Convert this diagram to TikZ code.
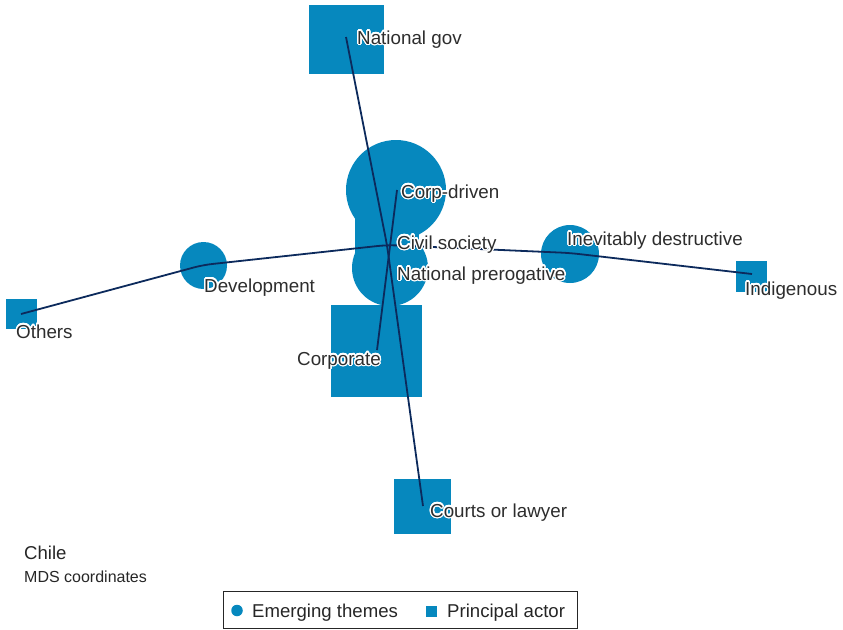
\documentclass[tikz,border=0pt]{standalone}
\usepackage{fontspec}
\setmainfont{Liberation Sans}
\usepackage{contour}
\contourlength{1.3pt}
\contournumber{24}
\definecolor{mdsblue}{RGB}{6,136,190}
\definecolor{mdsline}{RGB}{12,42,92}
\definecolor{labelgray}{RGB}{45,45,45}
\newcommand{\lbl}[1]{\contour{white}{#1}}
\begin{document}
\begin{tikzpicture}[x=1pt,y=-1pt,
  theme/.style={circle,fill=mdsblue,draw=none,inner sep=0pt},
  actor/.style={rectangle,fill=mdsblue,draw=none,inner sep=0pt},
  link/.style={draw=mdsline,line width=1.8pt,rounded corners=9pt},
  tag/.style={inner sep=0pt,text=labelgray,font=\fontsize{18.8}{22}\selectfont},
  legtext/.style={inner sep=0pt,text=black!85,font=\fontsize{18.6}{22}\selectfont}]
\useasboundingbox (0,0) rectangle (843,629);

% principal actors (squares)
\node[actor,minimum width=75pt,minimum height=69pt] (natgov) at (346.5,39) {};
\node[actor,minimum size=64pt] (civsoc) at (387,222) {};
\node[actor,minimum width=91pt,minimum height=92pt] (corporate) at (376.5,351) {};
\node[actor,minimum width=57pt,minimum height=55pt] (courts) at (422.5,506.5) {};
\node[actor,minimum size=31pt] (indig) at (751.5,276.5) {};
\node[actor,minimum size=30.5pt] (others) at (21.5,314) {};

% emerging themes (circles)
\node[theme,minimum size=100pt] (corpdriven) at (396,190) {};
\node[theme,minimum size=76pt] (natpre) at (390,268) {};
\node[theme,minimum size=58pt] (inev) at (570,254) {};
\node[theme,minimum size=47pt] (devel) at (203.5,265.5) {};

% MDS coordinates of the points joined by the dimension paths
\coordinate (pNat) at (346,37);
\coordinate (pCiv) at (387,245);
\coordinate (pCourts) at (423,506);
\coordinate (pOth) at (21,314);
\coordinate (pDev) at (203,265);
\coordinate (pInev) at (570,253);
\coordinate (pInd) at (752,274);
\coordinate (pCd) at (397,190);
\coordinate (pCorp) at (377,350);

% dimension paths
\draw[link] (pNat) -- (pCiv) -- (pCourts);
\draw[link] (pOth) -- (pDev) -- (pCiv) -- (pInev) -- (pInd);
\draw[link] (pCd) -- (pCorp);

% point labels, with a white halo
\node[tag,anchor=base west] (tNat) at (357,44) {\lbl{National gov}};
\node[tag,anchor=base west] (tCd) at (401,198) {\lbl{Corp-driven}};
\node[tag,anchor=base west] (tCiv) at (397,249) {\lbl{Civil society}};
\node[tag,anchor=base west] (tNp) at (397,280) {\lbl{National prerogative}};
\node[tag,anchor=base east] (tCorp) at (381,365) {\lbl{Corporate}};
\node[tag,anchor=base west] (tDev) at (204,292) {\lbl{Development}};
\node[tag,anchor=base west] (tInev) at (567,245) {\lbl{Inevitably destructive}};
\node[tag,anchor=base west] (tInd) at (745,295) {\lbl{Indigenous}};
\node[tag,anchor=base west] (tOth) at (16,338) {\lbl{Others}};
\node[tag,anchor=base west] (tCourts) at (430,517) {\lbl{Courts or lawyer}};

% caption
\node[legtext,anchor=base west] (title) at (24,559) {Chile};
\node[legtext,anchor=base west,font=\fontsize{16}{19}\selectfont] (subtitle) at (24,582) {MDS coordinates};

% legend
\draw[black!85,line width=1pt] (223,591) rectangle (577,628.3);
\node[circle,fill=mdsblue,inner sep=0pt,minimum size=11.5pt] (legCirc) at (237,610.5) {};
\node[legtext,anchor=base west] (legTheme) at (252,617) {Emerging themes};
\node[rectangle,fill=mdsblue,inner sep=0pt,minimum size=11.5pt] (legSq) at (431.5,611.5) {};
\node[legtext,anchor=base west] (legActor) at (447,617) {Principal actor};
\end{tikzpicture}
\end{document}
